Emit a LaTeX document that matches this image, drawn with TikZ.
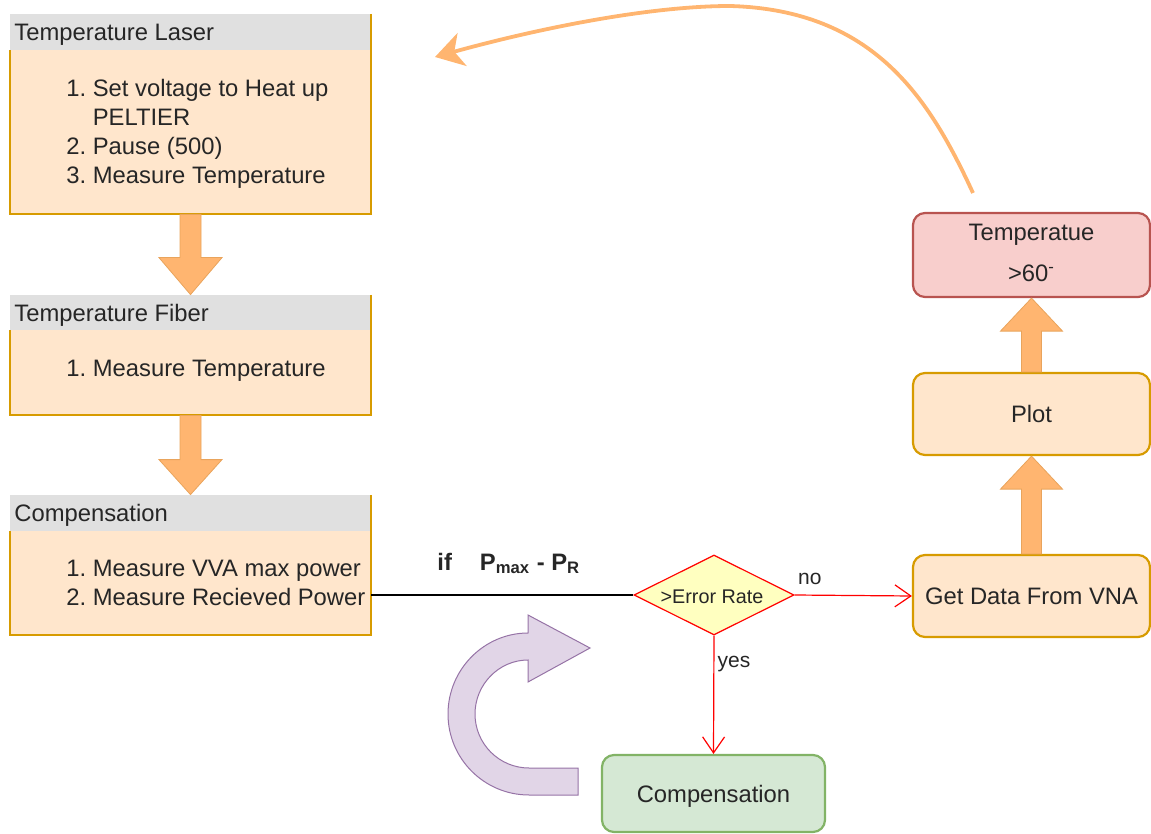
\documentclass[tikz,border=0pt]{standalone}
\usepackage{fontspec}
\setmainfont{Liberation Sans}
\usetikzlibrary{arrows.meta,shapes.geometric,calc,fit}

\definecolor{hdr}{HTML}{E0E0E0}
\definecolor{peach}{HTML}{FFE6CC}
\definecolor{gold}{HTML}{D79B00}
\definecolor{orfill}{HTML}{FFB570}
\definecolor{orline}{HTML}{E9A45C}
\definecolor{pinkf}{HTML}{F8CECC}
\definecolor{pinkd}{HTML}{B85450}
\definecolor{greenf}{HTML}{D5E8D4}
\definecolor{greend}{HTML}{82B366}
\definecolor{purf}{HTML}{E1D5E7}
\definecolor{purd}{HTML}{9673A6}
\definecolor{yelf}{HTML}{FFFFC0}
\definecolor{txt}{HTML}{262626}

\newcommand{\bodyfont}{\fontsize{11.9}{14.5}\selectfont}

% list box with a grey title strip: name, top, strip bottom, bottom
\newcommand{\swimbox}[4]{%
  \fill[hdr] (10,#2) rectangle (371,#3);
  \fill[peach] (10,#3) rectangle (371,#4);
  \draw[gold, line width=0.8pt] (371,#2) -- (371,#4) -- (10,#4) -- (10,#3);
  \node[fit={(10,#2)(371,#4)}, inner sep=0pt] (#1) {};
}

\begin{document}
\begin{tikzpicture}[x=0.5pt, y=-0.5pt, text=txt, font=\bodyfont,
  hdrtext/.style={anchor=west, inner sep=1pt},
  listtext/.style={anchor=west, inner sep=0pt, align=left},
  roundbox/.style={draw=gold, fill=peach, line width=1.1pt, rounded corners=6pt,
    minimum width=118.5pt, minimum height=41pt, inner sep=0pt, align=center},
  fat/.style={fill=orfill, draw=orline, line width=0.4pt},
  redarr/.style={draw=red, line width=0.6pt, -{Straight Barb[length=8pt,width=11pt]}},
  smalllbl/.style={font=\fontsize{10.5}{12}\selectfont, inner sep=0pt}
]
\useasboundingbox (0,0) rectangle (1151,834);

% left column
\swimbox{laser}{14}{50}{214}
\node[hdrtext] (laserh) at (12,35) {Temperature Laser};
\node[listtext] (laserl) at (66,134.5) {\begin{tabular}{@{}l@{\ }l@{}}1.&Set voltage to Heat up\\&PELTIER\\2.&Pause (500)\\3.&Measure Temperature\end{tabular}};

\swimbox{fiber}{295}{330}{415}
\node[hdrtext] (fiberh) at (12,315) {Temperature Fiber};
\node[listtext] (fiberl) at (66,371) {1.\ Measure Temperature};

\swimbox{comp}{495}{531}{635}
\node[hdrtext] (comph) at (12,515) {Compensation};
\node[listtext] (compl) at (66,585.5) {\begin{tabular}{@{}l@{\ }l@{}}1.&Measure VVA max power\\2.&Measure Recieved Power\end{tabular}};

% block arrows down the left column
\draw[fat] ($(laser.south)+(-10.5,0)$) -- ($(fiber.north)+(-10.5,-37)$) -- ($(fiber.north)+(-31.5,-37)$) -- (fiber.north)
  -- ($(fiber.north)+(31.5,-37)$) -- ($(fiber.north)+(10.5,-37)$) -- ($(laser.south)+(10.5,0)$) -- cycle;
\draw[fat] ($(fiber.south)+(-10.5,0)$) -- ($(comp.north)+(-10.5,-35)$) -- ($(comp.north)+(-31.5,-35)$) -- (comp.north)
  -- ($(comp.north)+(31.5,-35)$) -- ($(comp.north)+(10.5,-35)$) -- ($(fiber.south)+(10.5,0)$) -- cycle;

% right column
\node[roundbox] (vna) at (1031.5,596) {Get Data From VNA};
\node[roundbox] (plot) at (1031.5,414) {Plot};
\node[roundbox, draw=pinkd, fill=pinkf, minimum height=42pt] (temp) at (1031.5,255) {};
\node (templ) at (1031.5,234.5) {Temperatue};
\node (tempv) at (1031.5,273.5) {>60\textsuperscript{-}};

\draw[fat] ($(vna.north)+(-10,0)$) -- ($(plot.south)+(-10,33)$) -- ($(plot.south)+(-31,33)$) -- (plot.south)
  -- ($(plot.south)+(31,33)$) -- ($(plot.south)+(10,33)$) -- ($(vna.north)+(10,0)$) -- cycle;
\draw[fat] ($(plot.north)+(-10,0)$) -- ($(temp.south)+(-10,33)$) -- ($(temp.south)+(-31,33)$) -- (temp.south)
  -- ($(temp.south)+(31,33)$) -- ($(temp.south)+(10,33)$) -- ($(plot.north)+(10,0)$) -- cycle;

% decision
\node[diamond, aspect=2, draw=red, fill=yelf, line width=0.6pt, minimum width=80pt, minimum height=40pt,
  inner sep=0pt] (dec) at (714,595) {};
\node[font=\fontsize{9.9}{12}\selectfont] (decl) at (712,597) {>Error Rate};
\node[roundbox, draw=greend, fill=greenf, minimum width=111.5pt, minimum height=38.5pt] (comp2) at (713.5,793.5) {};
\node (comp2l) at (713.5,796) {Compensation};

\draw[line width=0.6pt, black] (comp.east |- dec.west) -- (dec.west);
\node[anchor=base west, inner sep=0pt] (cond) at (437,570) {\bfseries if\hspace{14pt}P\textsubscript{max} - P\textsubscript{R}};

\draw[redarr] (dec.east) -- (vna.west)
  node[smalllbl, at start, anchor=base west, xshift=1.5pt, yshift=5.5pt] {no};
\draw[redarr] (dec.south) -- (comp2.north)
  node[smalllbl, at start, anchor=base west, xshift=1.5pt, yshift=-16pt] {yes};

% return arrow over the top
\coordinate (cstart) at (973,193);
\coordinate (cend) at (435,57);
\draw[orfill, line width=1.9pt, -{Stealth[length=14pt,width=17pt,inset=4pt]}]
  (cstart) .. controls (930,100) and (875,10) .. (730,6) .. controls (650,6) and (540,28) .. (cend);

% U-turn arrow
\draw[fill=purf, draw=purd, line width=0.5pt]
  (590,648) -- (528,615) -- (528,633)
  .. controls (484.3,633) and (448,669.3) .. (448,714)
  .. controls (448,758.7) and (484.3,795) .. (529,795)
  -- (578,795) -- (578,768) -- (529,768)
  .. controls (499.2,768) and (475,743.8) .. (475,714)
  .. controls (475,684.2) and (499.2,660) .. (528,660)
  -- (528,682) -- cycle;
\end{tikzpicture}
\end{document}
